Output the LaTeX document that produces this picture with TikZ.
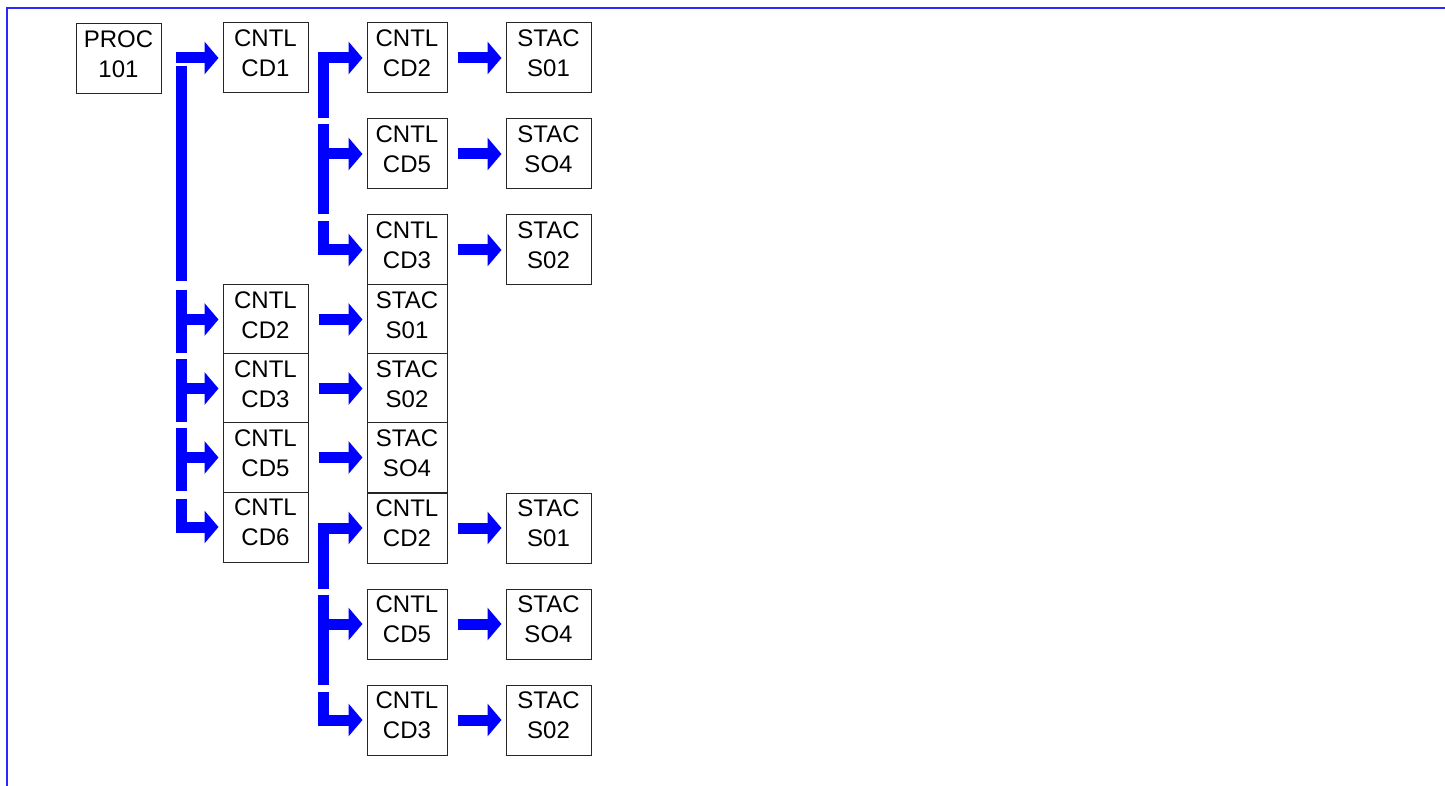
\documentclass[tikz,border=0pt]{standalone}
\usepackage{fontspec}
\setmainfont{Liberation Sans}
\usetikzlibrary{arrows.meta,calc}
\definecolor{flowblue}{RGB}{0,0,255}
\definecolor{frameblue}{RGB}{40,40,255}
\begin{document}
\begin{tikzpicture}[x=0.5pt,y=-0.5pt,
  box/.style={draw=black!85, fill=white, line width=0.5pt, minimum width=42.5pt, minimum height=35pt, inner sep=0pt, align=center, font=\fontsize{12}{15}\selectfont, text depth=4.5pt},
  narrow/.style={box, minimum width=40pt},
  bar/.style={draw=flowblue, line width=5.5pt},
  flow/.style={bar, line join=miter, -{Triangle[width=16pt,length=7pt]}, shorten >=2pt}]
\useasboundingbox (0,0) rectangle (1445,786);
\draw[frameblue, line width=1pt] (7,786) -- (7,8) -- (1445,8);
\node[box] (proc) at (118.5,59) {PROC\\101};
\node[box] (cd1) at (265.5,58) {CNTL\\CD1};
\node[narrow] (cd2a) at (407,58) {CNTL\\CD2};
\node[narrow] (cd5a) at (407,154) {CNTL\\CD5};
\node[narrow] (cd3a) at (407,250) {CNTL\\CD3};
\node[box] (s01a) at (548.5,58) {STAC\\S01};
\node[box] (so4a) at (548.5,154) {STAC\\SO4};
\node[box] (s02a) at (548.5,250) {STAC\\S02};
\node[box] (cd2b) at (265.5,319.5) {CNTL\\CD2};
\node[box] (cd3b) at (265.5,388.5) {CNTL\\CD3};
\node[box] (cd5b) at (265.5,457.5) {CNTL\\CD5};
\node[box] (cd6) at (265.5,527) {CNTL\\CD6};
\node[narrow] (s01b) at (407,319.5) {STAC\\S01};
\node[narrow] (s02b) at (407,388.5) {STAC\\S02};
\node[narrow] (so4b) at (407,457.5) {STAC\\SO4};
\node[narrow] (cd2c) at (407,528) {CNTL\\CD2};
\node[narrow] (cd5c) at (407,624) {CNTL\\CD5};
\node[narrow] (cd3c) at (407,720) {CNTL\\CD3};
\node[box] (s01c) at (548.5,528) {STAC\\S01};
\node[box] (so4c) at (548.5,624) {STAC\\SO4};
\node[box] (s02c) at (548.5,720) {STAC\\S02};
\coordinate (trunk1) at (181,0);
\coordinate (trunk2) at (323,0);
\draw[flow, shorten <=-2.75pt] (trunk1 |- cd1) -- (cd1);
\draw[bar, shorten >=1.5pt] ($(trunk1 |- cd1)+(0,8)$) -- (trunk1 |- cd2b.north);
\draw[bar, shorten <=3pt, shorten >=1pt] (trunk1 |- cd2b.north) -- (trunk1 |- cd2b.south);
\draw[flow] (trunk1 |- cd2b) -- (cd2b);
\draw[bar, shorten <=3pt, shorten >=1pt] (trunk1 |- cd3b.north) -- (trunk1 |- cd3b.south);
\draw[flow] (trunk1 |- cd3b) -- (cd3b);
\draw[bar, shorten <=3pt, shorten >=1pt] (trunk1 |- cd5b.north) -- (trunk1 |- cd5b.south);
\draw[flow] (trunk1 |- cd5b) -- (cd5b);
\draw[flow, shorten <=3.5pt] (trunk1 |- cd6.north) |- (cd6);
\draw[flow] (trunk2 |- cd5a.north) |- (cd2a);
\draw[bar, shorten <=3pt] (trunk2 |- cd5a.north) -- (trunk2 |- cd3a.north);
\draw[flow] (trunk2 |- cd5a) -- (cd5a);
\draw[flow, shorten <=3.5pt] (trunk2 |- cd3a.north) |- (cd3a);
\draw[flow] (trunk2 |- cd5c.north) |- (cd2c);
\draw[bar, shorten <=3pt] (trunk2 |- cd5c.north) -- (trunk2 |- cd3c.north);
\draw[flow] (trunk2 |- cd5c) -- (cd5c);
\draw[flow, shorten <=3.5pt] (trunk2 |- cd3c.north) |- (cd3c);
\draw[flow, shorten <=5pt] (cd2a) -- (s01a);
\draw[flow, shorten <=5pt] (cd5a) -- (so4a);
\draw[flow, shorten <=5pt] (cd3a) -- (s02a);
\draw[flow, shorten <=5pt] (cd2b) -- (s01b);
\draw[flow, shorten <=5pt] (cd3b) -- (s02b);
\draw[flow, shorten <=5pt] (cd5b) -- (so4b);
\draw[flow, shorten <=5pt] (cd2c) -- (s01c);
\draw[flow, shorten <=5pt] (cd5c) -- (so4c);
\draw[flow, shorten <=5pt] (cd3c) -- (s02c);
\end{tikzpicture}
\end{document}
